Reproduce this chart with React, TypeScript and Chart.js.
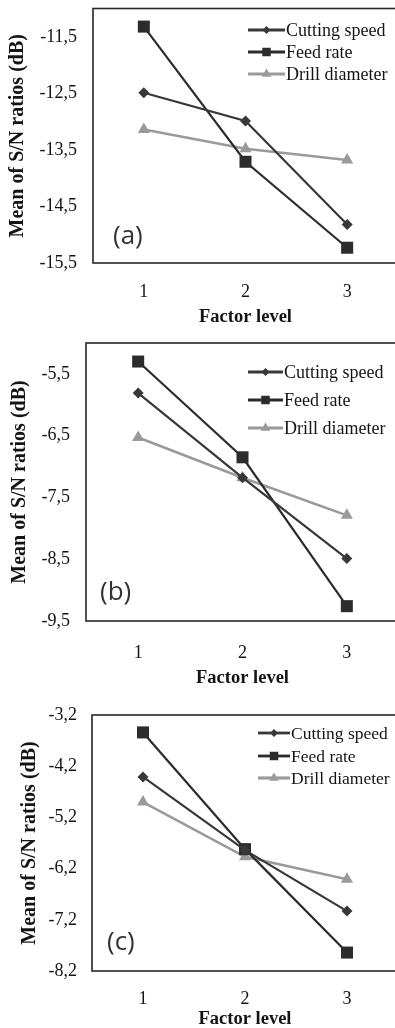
import React, { useEffect, useRef } from 'react';
import { Chart, registerables } from 'chart.js';

Chart.register(...registerables);

// ---------- data ----------
const levels = ['1', '2', '3'];
const seriesNames = ['Cutting speed', 'Feed rate', 'Drill diameter'];

const cuttingA = [-12.49, -12.99, -14.82];
const feedA = [-11.32, -13.71, -15.23];
const drillA = [-13.14, -13.48, -13.68];
const yTicksA = [-15.5, -14.5, -13.5, -12.5, -11.5];
const yMinA = -15.5;
const yMaxA = -11;

const cuttingB = [-5.81, -7.18, -8.49];
const feedB = [-5.3, -6.85, -9.26];
const drillB = [-6.53, -7.18, -7.79];
const yTicksB = [-9.5, -8.5, -7.5, -6.5, -5.5];
const yMinB = -9.5;
const yMaxB = -5;

const cuttingC = [-4.41, -5.84, -7.03];
const feedC = [-3.54, -5.82, -7.84];
const drillC = [-4.9, -5.97, -6.41];
const yTicksC = [-8.2, -7.2, -6.2, -5.2, -4.2, -3.2];
const yMinC = -8.2;
const yMaxC = -3.2;

const panelTags = ['(a)', '(b)', '(c)'];

// ---------- styles ----------
const SERIF = '"Liberation Serif", "Times New Roman", serif';
const TEXT = '#141414';
const seriesStyles = [
  { color: '#383838', point: 'rectRot', radius: 5.5, width: 2.2, legR: 4 },
  { color: '#2c2c2c', point: 'rect', radius: 8.5, width: 2.2, legR: 6 },
  { color: '#9a9a9a', point: 'triangle', radius: 7, width: 2.6, legR: 5.5 },
];

const W = 420;

const specs = [
  {
    top: 0, h: 340, area: { t: 8, b: 263, l: 93, r: 398 },
    xLabelY: 292, xTitleY: 317, yTitleX: 18, yLabelRight: 77,
    tagX: 113, tagY: 237,
    leg: { x0: 248, x1: 285, rows: [30, 52, 74], font: 18 },
    data: [cuttingA, feedA, drillA], yTicks: yTicksA, yMin: yMinA, yMax: yMaxA,
  },
  {
    top: 330, h: 370, area: { t: 343, b: 621, l: 86, r: 399 },
    xLabelY: 653, xTitleY: 678, yTitleX: 20, yLabelRight: 70,
    tagX: 100, tagY: 593,
    leg: { x0: 248, x1: 283, rows: [372, 400, 428], font: 18 },
    data: [cuttingB, feedB, drillB], yTicks: yTicksB, yMin: yMinB, yMax: yMaxB,
  },
  {
    top: 690, h: 345, area: { t: 715, b: 971, l: 92, r: 398 },
    xLabelY: 999, xTitleY: 1019, yTitleX: 30, yLabelRight: 77,
    tagX: 107, tagY: 943,
    leg: { x0: 258, x1: 290, rows: [733, 756, 778], font: 17.5 },
    data: [cuttingC, feedC, drillC], yTicks: yTicksC, yMin: yMinC, yMax: yMaxC,
  },
];

function drawMarker(ctx: CanvasRenderingContext2D, style: string, x: number, y: number, r: number) {
  ctx.beginPath();
  if (style === 'rect') {
    const s = r * Math.SQRT1_2;
    ctx.rect(x - s, y - s, 2 * s, 2 * s);
  } else if (style === 'rectRot') {
    ctx.moveTo(x, y - r);
    ctx.lineTo(x + r, y);
    ctx.lineTo(x, y + r);
    ctx.lineTo(x - r, y);
    ctx.closePath();
  } else {
    let a = 0;
    ctx.moveTo(x + Math.sin(a) * r, y - Math.cos(a) * r);
    a += (2 * Math.PI) / 3;
    ctx.lineTo(x + Math.sin(a) * r, y - Math.cos(a) * r);
    a += (2 * Math.PI) / 3;
    ctx.lineTo(x + Math.sin(a) * r, y - Math.cos(a) * r);
    ctx.closePath();
  }
  ctx.fill();
}

function fmt(v: number) {
  return v.toFixed(1).replace('.', ',');
}

function Panel({ idx }: { idx: number }) {
  const ref = useRef<HTMLCanvasElement | null>(null);
  const spec = specs[idx];

  useEffect(() => {
    if (!ref.current) return;
    const top = spec.top;
    const tickFont = { family: SERIF, size: 18, lineHeight: 1.2 };
    const xTitleFont = { family: SERIF, size: 18.5, weight: 'bold' as const, lineHeight: 1.2 };
    const yTitleFont = { family: SERIF, size: 20, weight: 'bold' as const, lineHeight: 1.2 };
    const tickLH = 18 * 1.2;
    const xTitleLH = 18.5 * 1.2;
    const yTitleLH = 20 * 1.2;

    const areaTopL = spec.area.t - top;
    const areaBottomL = spec.area.b - top;

    const decor = {
      id: 'decor',
      beforeDatasetsDraw(chart: any) {
        const { ctx, chartArea } = chart;
        ctx.save();
        ctx.strokeStyle = '#262626';
        ctx.lineWidth = 1.6;
        ctx.strokeRect(chartArea.left, chartArea.top, chartArea.right - chartArea.left, chartArea.bottom - chartArea.top);
        ctx.restore();
      },
      afterDraw(chart: any) {
        const { ctx } = chart;
        ctx.save();
        const lg = spec.leg;
        chart.data.datasets.forEach((ds: any, i: number) => {
          const st = seriesStyles[i];
          const y = lg.rows[i] - top;
          ctx.strokeStyle = st.color;
          ctx.fillStyle = st.color;
          ctx.lineWidth = st.width + 0.6;
          ctx.beginPath();
          ctx.moveTo(lg.x0, y);
          ctx.lineTo(lg.x1, y);
          ctx.stroke();
          drawMarker(ctx, st.point, (lg.x0 + lg.x1) / 2, y, st.legR);
          ctx.fillStyle = TEXT;
          ctx.font = `${lg.font}px ${SERIF}`;
          ctx.textAlign = 'left';
          ctx.textBaseline = 'middle';
          ctx.fillText(ds.label, lg.x1 + 1, y + 1);
        });
        ctx.fillStyle = '#333333';
        ctx.font = `26px "Open Sans", "DejaVu Sans", sans-serif`;
        ctx.textAlign = 'left';
        ctx.textBaseline = 'middle';
        ctx.fillText(panelTags[idx], spec.tagX, spec.tagY - top);
        ctx.restore();
      },
    };

    const chart = new Chart(ref.current, {
      type: 'line',
      data: {
        labels: levels,
        datasets: spec.data.map((vals, i) => {
          const st = seriesStyles[i];
          return {
            label: seriesNames[i],
            data: vals,
            borderColor: st.color,
            backgroundColor: st.color,
            borderWidth: st.width,
            pointStyle: st.point as any,
            pointRadius: st.radius,
            pointBorderWidth: 0,
            pointBackgroundColor: st.color,
            tension: 0,
            fill: false,
            clip: false as any,
          };
        }),
      },
      options: {
        responsive: false,
        animation: false,
        events: [],
        layout: { padding: { left: 0, top: areaTopL, right: W - spec.area.r, bottom: 0 } },
        plugins: { legend: { display: false }, tooltip: { enabled: false } },
        scales: {
          x: {
            type: 'category',
            offset: true,
            grid: { display: false, drawTicks: false },
            border: { display: false },
            ticks: {
              padding: spec.xLabelY - spec.area.b - tickLH / 2,
              font: tickFont,
              color: TEXT,
              maxRotation: 0,
            },
            title: {
              display: true,
              text: 'Factor level',
              font: xTitleFont,
              color: TEXT,
              padding: { top: 0, bottom: spec.h - (spec.xTitleY - top) - xTitleLH / 2 },
            },
            afterFit: (s: any) => {
              s.height = spec.h - areaBottomL;
              s.paddingLeft = 0;
              s.paddingRight = 0;
            },
          },
          y: {
            type: 'linear',
            min: spec.yMin,
            max: spec.yMax,
            grid: { display: false, drawTicks: false },
            border: { display: false },
            ticks: {
              padding: spec.area.l - spec.yLabelRight,
              font: tickFont,
              color: TEXT,
              callback: (v: any) => fmt(Number(v)),
            },
            afterBuildTicks: (s: any) => {
              s.ticks = spec.yTicks.map((v) => ({ value: v }));
            },
            title: {
              display: true,
              text: 'Mean of S/N ratios (dB)',
              font: yTitleFont,
              color: TEXT,
              padding: { top: spec.yTitleX - yTitleLH / 2, bottom: 0 },
            },
            afterFit: (s: any) => {
              s.width = spec.area.l;
              s.paddingTop = 0;
              s.paddingBottom = 0;
            },
          },
        },
      },
      plugins: [decor],
    } as any);

    return () => chart.destroy();
  }, []);

  return (
    <canvas
      ref={ref}
      width={W}
      height={spec.h}
      style={{ position: 'absolute', left: 0, top: spec.top, width: W, height: spec.h }}
    />
  );
}

export default function App() {
  return (
    <div
      style={{
        position: 'absolute',
        left: 0,
        top: 0,
        width: 395,
        height: 1028,
        overflow: 'hidden',
        background: '#ffffff',
      }}
    >
      <Panel idx={0} />
      <Panel idx={1} />
      <Panel idx={2} />
    </div>
  );
}
